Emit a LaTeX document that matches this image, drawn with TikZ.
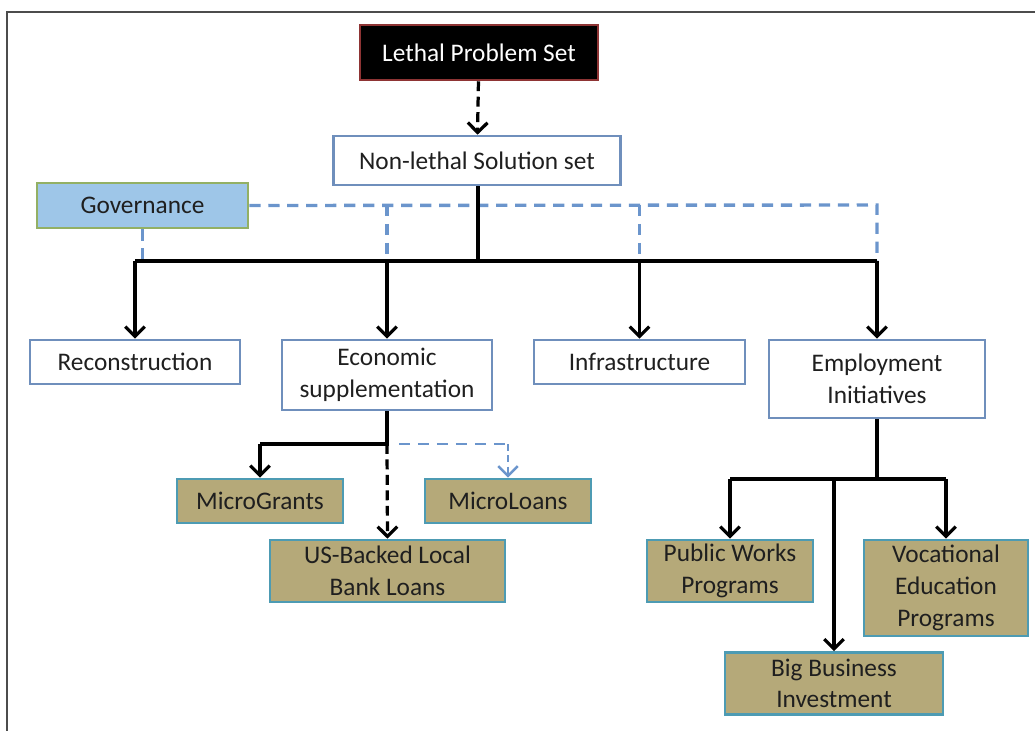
\documentclass[tikz,border=0pt]{standalone}
\usepackage{fontspec}
\setmainfont{Carlito}
\usetikzlibrary{arrows.meta}
\definecolor{boxline}{HTML}{6F8FBC}
\definecolor{oliveFill}{HTML}{B5A979}
\definecolor{tealLine}{HTML}{4D9BB3}
\definecolor{govFill}{HTML}{9EC6E8}
\definecolor{govLine}{HTML}{93B064}
\definecolor{govDash}{HTML}{6B95CC}
\definecolor{lethalLine}{HTML}{8E3434}
\begin{document}
\begin{tikzpicture}[x=0.025cm, y=-0.025cm,
            every node/.style={draw=boxline, line width=1.8pt, fill=white, align=center,
                inner sep=0pt, text=black!88, font=\fontsize{18}{22.5}\selectfont},
            box/.style 2 args={minimum width=#1*0.025cm, minimum height=#2*0.025cm},
            fundbox/.style={fill=oliveFill, draw=tealLine},
            link/.style={draw, line width=2.3pt},
            govlink/.style={draw=govDash, line width=2.4pt, dash pattern=on 8pt off 5.5pt},
            >={Straight Barb[length=7pt, width=14pt]}]

            \useasboundingbox (0,0) rectangle (1035,731);
            \draw[line width=1.4pt, black!70] (1040,12) -- (7,12) -- (7,740);

            % top of the tree
            \node[box={238}{55}, fill=black, draw=lethalLine, text=white] (lethal) at (479,52.5) {Lethal Problem Set};
            \node[box={287}{49}] (solution) at (477,160.5) {Non-lethal Solution set};
            \node[box={211}{45}, fill=govFill, draw=govLine] (governance) at (142.5,205.5) {Governance};

            % second level
            \node[box={210}{44}] (reconstruction) at (135,362) {Reconstruction};
            \node[box={210}{70}] (economic) at (387,375) {Economic\\supplementation};
            \node[box={211}{44}] (infrastructure) at (639.5,362) {Infrastructure};
            \node[box={216}{78}] (employment) at (877,379) {Employment\\Initiatives};

            % funding
            \node[box={166}{44}, fundbox] (grants) at (260,501) {MicroGrants};
            \node[box={166}{44}, fundbox] (loans) at (508,501) {MicroLoans};
            \node[box={235}{62}, fundbox] (bankloans) at (387.5,571) {US-Backed Local\\Bank Loans};

            % jobs
            \node[box={166}{62}, fundbox] (publicworks) at (730,571) {Public Works\\Programs};
            \node[box={164}{96}, fundbox] (vocational) at (946,588) {Vocational\\Education\\Programs};
            \node[box={218}{62}, fundbox] (bigbusiness) at (834,683.5) {Big Business\\Investment};

            \coordinate (bus) at (478,261);
            \coordinate (govline) at (0,205);
            \coordinate (econfork) at (387,444);
            \coordinate (jobfork) at (877,479);

            % governance overlay
            \draw[govlink] (governance.east) -- (employment.north |- govline) -- ([yshift=-0.3cm]employment.north |- bus);
            \draw[govlink] (governance.south) -- (governance.south |- bus);
            \foreach \n in {economic, infrastructure}{
                \draw[govlink] (\n.north |- govline) -- (\n.north |- bus);
            }

            \draw[link, dash pattern=on 7pt off 4pt, ->] (lethal) -- (solution);
            \draw[link] (solution.south -| bus) -- (bus);
            \draw[link] (reconstruction.north |- bus) -- (employment.north |- bus);
            \foreach \n in {reconstruction, economic, infrastructure, employment}{
                \draw[link, ->] (\n.north |- bus) -- (\n.north);
            }

            \draw[link] (economic.south) -- (econfork) -- (grants.north |- econfork);
            \draw[link, ->] (grants.north |- econfork) -- (grants.north);
            \draw[link, dash pattern=on 7pt off 4pt, ->] (econfork) -- (bankloans.north);
            \draw[govlink, line width=1.8pt] ([xshift=0.3cm]econfork) -- (loans.north |- econfork);
            \draw[govlink, line width=1.8pt, dash pattern=on 5pt off 3pt, ->] (loans.north |- econfork) -- (loans.north);

            \draw[link] (employment.south) -- (jobfork);
            \draw[link] (publicworks.north |- jobfork) -- (vocational.north |- jobfork);
            \foreach \n in {publicworks, vocational, bigbusiness}{
                \draw[link, ->] (\n.north |- jobfork) -- (\n.north);
            }
        \end{tikzpicture}
\end{document}
